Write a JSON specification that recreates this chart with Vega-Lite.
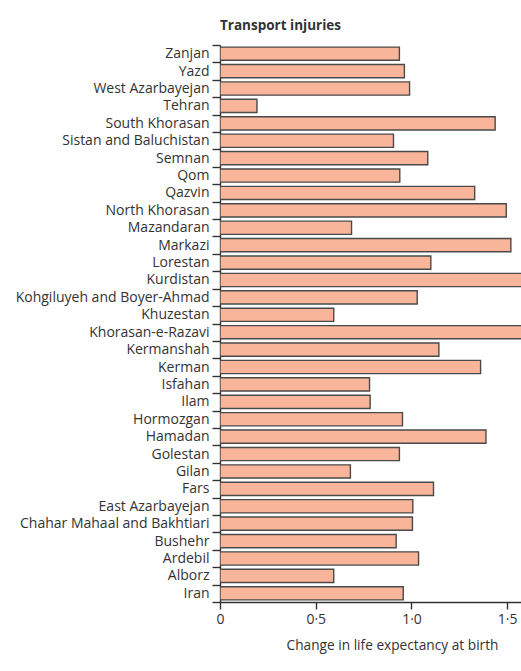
{
  "$schema": "https://vega.github.io/schema/vega-lite/v6.json",
  "autosize": {"type": "none"},
  "padding": {"left": 220, "top": 45, "right": 0, "bottom": 69},
  "width": 301,
  "height": 557,
  "background": "white",
  "title": {
    "text": "Transport injuries",
    "anchor": "start",
    "frame": "group",
    "offset": 6,
    "font": "Open Sans",
    "fontSize": 13.5,
    "fontWeight": "bold",
    "color": "#333333"
  },
  "data": {
    "values": [
      {"province": "Zanjan", "change": 0.937},
      {"province": "Yazd", "change": 0.963},
      {"province": "West Azarbayejan", "change": 0.99},
      {"province": "Tehran", "change": 0.193},
      {"province": "South Khorasan", "change": 1.437},
      {"province": "Sistan and Baluchistan", "change": 0.906},
      {"province": "Semnan", "change": 1.085},
      {"province": "Qom", "change": 0.939},
      {"province": "Qazvin", "change": 1.33},
      {"province": "North Khorasan", "change": 1.495},
      {"province": "Mazandaran", "change": 0.687},
      {"province": "Markazi", "change": 1.519},
      {"province": "Lorestan", "change": 1.101},
      {"province": "Kurdistan", "change": 1.65},
      {"province": "Kohgiluyeh and Boyer-Ahmad", "change": 1.03},
      {"province": "Khuzestan", "change": 0.594},
      {"province": "Khorasan-e-Razavi", "change": 1.65},
      {"province": "Kermanshah", "change": 1.143},
      {"province": "Kerman", "change": 1.361},
      {"province": "Isfahan", "change": 0.781},
      {"province": "Ilam", "change": 0.784},
      {"province": "Hormozgan", "change": 0.953},
      {"province": "Hamadan", "change": 1.389},
      {"province": "Golestan", "change": 0.937},
      {"province": "Gilan", "change": 0.681},
      {"province": "Fars", "change": 1.115},
      {"province": "East Azarbayejan", "change": 1.007},
      {"province": "Chahar Mahaal and Bakhtiari", "change": 1.005},
      {"province": "Bushehr", "change": 0.92},
      {"province": "Ardebil", "change": 1.037},
      {"province": "Alborz", "change": 0.594},
      {"province": "Iran", "change": 0.957}
    ]
  },
  "mark": {
    "type": "bar",
    "clip": true,
    "height": {"band": 0.76},
    "fill": "#f9b59a",
    "stroke": "#4a4a4a",
    "strokeWidth": 1.4
  },
  "encoding": {
    "y": {
      "field": "province",
      "type": "nominal",
      "sort": null,
      "scale": {"paddingInner": 0, "paddingOuter": 0},
      "axis": {
        "title": null,
        "tickBand": "extent",
        "tickSize": 8,
        "tickColor": "#333333",
        "tickWidth": 1.4,
        "domainColor": "#333333",
        "domainWidth": 1.4,
        "labelFont": "Open Sans",
        "labelFontSize": 14,
        "labelColor": "#333333",
        "labelPadding": 3,
        "labelLimit": 300
      }
    },
    "x": {
      "field": "change",
      "type": "quantitative",
      "scale": {"domain": [0, 1.572], "nice": false, "zero": true},
      "axis": {
        "title": "Change in life expectancy at birth",
        "values": [0, 0.5, 1, 1.5],
        "labelExpr": "datum.value == 0 ? '0' : replace(format(datum.value, '.1f'), '.', '·')",
        "grid": false,
        "tickSize": 7,
        "tickColor": "#333333",
        "tickWidth": 1.4,
        "domainColor": "#333333",
        "domainWidth": 1.4,
        "labelFont": "Open Sans",
        "labelFontSize": 14,
        "labelColor": "#333333",
        "labelPadding": 3,
        "labelFlush": false,
        "titleFont": "Open Sans",
        "titleFontSize": 13.7,
        "titleFontWeight": "normal",
        "titleColor": "#333333",
        "titleX": 172,
        "titleAlign": "center",
        "titlePadding": 12
      }
    }
  },
  "config": {"view": {"stroke": null}}
}
